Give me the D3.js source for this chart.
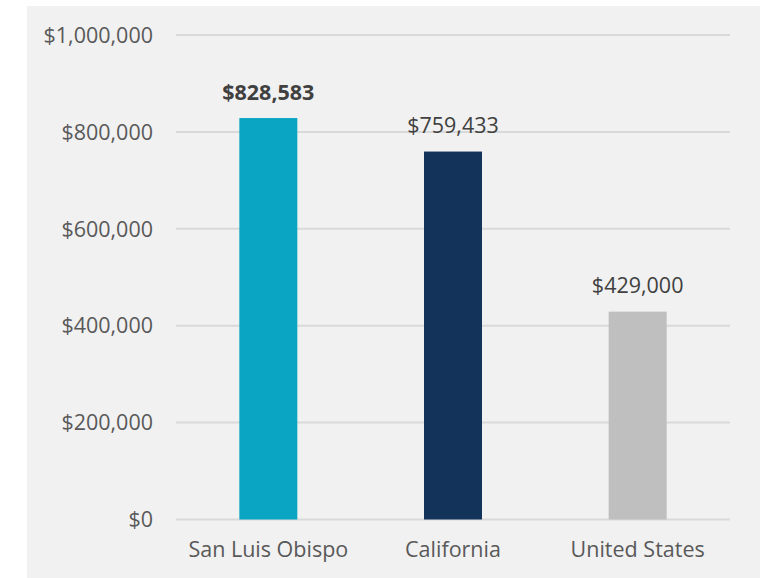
<!DOCTYPE html>
<html>
<head>
<meta charset="utf-8">
<script src="https://cdn.jsdelivr.net/npm/d3@7"></script>
<style>
  body { margin: 0; background: #fff; }
  text { font-family: "Open Sans", sans-serif; }
</style>
</head>
<body>
<div id="chart"></div>
<script>
// values
const regions = ["San Luis Obispo", "California", "United States"];
const medianPrice = [828583, 759433, 429000];
const barColors = ["#0aa5c3", "#14335a", "#bfbfbf"];
const yTicks = [0, 200000, 400000, 600000, 800000, 1000000];

const width = 766, height = 578;
const margin = {top: 35, right: 36, bottom: 58.5, left: 176};
const fontSize = "21.5px";

const svg = d3.select("#chart").append("svg")
    .attr("width", width)
    .attr("height", height);

// grey chart area
svg.append("rect")
    .attr("x", 27)
    .attr("y", 6)
    .attr("width", 733)
    .attr("height", height - 6)
    .attr("fill", "#f1f1f1");

const x = d3.scaleBand()
    .domain(regions)
    .range([margin.left, width - margin.right])
    .paddingInner(0.686)
    .paddingOuter(0.343);

const y = d3.scaleLinear()
    .domain([0, 1000000])
    .range([height - margin.bottom, margin.top]);

const fmt = d3.format("$,");

// gridlines
svg.append("g")
  .selectAll("line")
  .data(yTicks)
  .join("line")
    .attr("x1", margin.left)
    .attr("x2", width - margin.right)
    .attr("y1", d => y(d))
    .attr("y2", d => y(d))
    .attr("stroke", "#d9d9d9")
    .attr("stroke-width", 2);

// y axis labels
svg.append("g")
  .selectAll("text")
  .data(yTicks)
  .join("text")
    .attr("x", 153)
    .attr("y", d => y(d))
    .attr("dy", "0.36em")
    .attr("text-anchor", "end")
    .attr("fill", "#595959")
    .style("font-size", fontSize)
    .text(d => fmt(d));

// bars
svg.append("g")
  .selectAll("rect")
  .data(regions)
  .join("rect")
    .attr("x", d => x(d))
    .attr("width", x.bandwidth())
    .attr("y", (d, i) => y(medianPrice[i]))
    .attr("height", (d, i) => y(0) - y(medianPrice[i]))
    .attr("fill", (d, i) => barColors[i]);

// value labels
svg.append("g")
  .selectAll("text")
  .data(regions)
  .join("text")
    .attr("x", d => x(d) + x.bandwidth() / 2)
    .attr("y", (d, i) => y(medianPrice[i]) - 18.5)
    .attr("text-anchor", "middle")
    .attr("fill", "#404040")
    .style("font-size", fontSize)
    .style("font-weight", (d, i) => i === 0 ? "bold" : "normal")
    .text((d, i) => fmt(medianPrice[i]));

// category labels
svg.append("g")
  .selectAll("text")
  .data(regions)
  .join("text")
    .attr("x", d => x(d) + x.bandwidth() / 2)
    .attr("y", 557)
    .attr("text-anchor", "middle")
    .attr("fill", "#595959")
    .style("font-size", fontSize)
    .text(d => d);
</script>
</body>
</html>
